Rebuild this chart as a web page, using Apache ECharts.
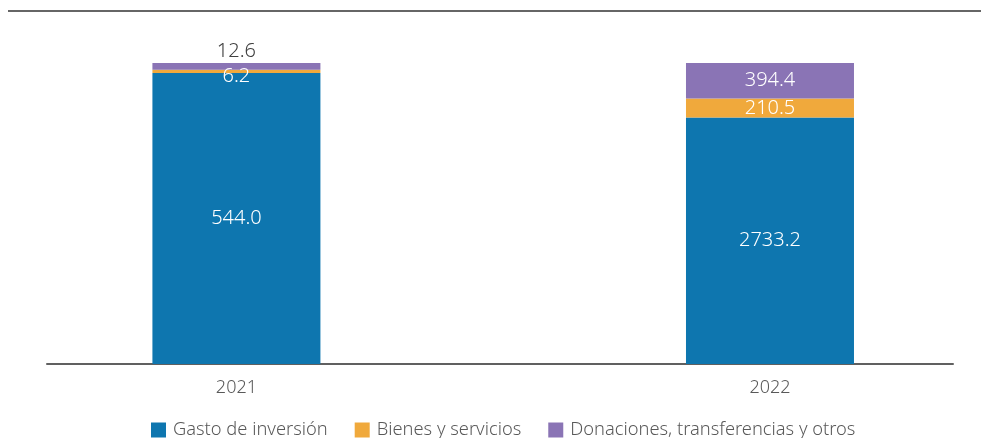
<!DOCTYPE html>
<html>
<head>
<meta charset="utf-8">
<script src="https://cdn.jsdelivr.net/npm/echarts@6/dist/echarts.min.js"></script>
<style>
  html, body { margin: 0; padding: 0; background: #fff; }
  #chart { width: 981px; height: 438px; }
</style>
</head>
<body>
<div id="chart"></div>
<script>
// Años y montos por rubro
const years = [2021, 2022];
const seriesNames = ['Gasto de inversión', 'Bienes y servicios', 'Donaciones, transferencias y otros'];
const gastoInversion = [544.0, 2733.2];
const bienesServicios = [6.2, 210.5];
const donaciones = [12.6, 394.4];

const colors = ['#0E76AF', '#F0A93C', '#8A74B5'];
const FONT = "'Noto Sans', sans-serif";
const amounts = [gastoInversion, bienesServicios, donaciones];

const totals = years.map((_, i) => gastoInversion[i] + bienesServicios[i] + donaciones[i]);
// each point: [participación % del total del año, año]
// (share comes first so the stack is computed on it, not on the year)
const share = (arr) => arr.map((v, i) => [v / totals[i] * 100, years[i]]);

const baseLabel = {
  show: true,
  position: 'inside',
  color: '#fff',
  fontFamily: FONT,
  fontSize: 20,
  fontWeight: 300,
  formatter: (p) => amounts[p.seriesIndex][p.dataIndex].toFixed(1)
};

function makeSeries(name, idx, perPoint) {
  const data = share(amounts[idx]).map((d, i) => {
    const item = { value: d };
    if (perPoint && perPoint[i]) item.label = perPoint[i];
    return item;
  });
  return {
    name: name,
    type: 'bar',
    stack: 'total',
    barWidth: 168,
    encode: { x: 1, y: 0 },
    itemStyle: { color: colors[idx] },
    label: baseLabel,
    data: data
  };
}

const chart = echarts.init(document.getElementById('chart'), null, { renderer: 'canvas' });

chart.setOption({
  animation: false,
  textStyle: { fontFamily: FONT },
  grid: { left: 47, right: 28, top: 63, bottom: 74, containLabel: false },
  xAxis: {
    type: 'value',
    min: 2020.645,
    max: 2022.343,
    axisLine: { show: true, lineStyle: { color: '#606060', width: 2 } },
    axisTick: { show: false },
    splitLine: { show: false },
    axisLabel: {
      customValues: years,
      formatter: (v) => String(v),
      color: '#595959',
      fontFamily: FONT,
      fontSize: 18,
      fontWeight: 300,
      margin: 15
    }
  },
  yAxis: {
    type: 'value',
    min: 0,
    max: 100,
    show: false,
    splitLine: { show: false }
  },
  legend: {
    bottom: -6,
    left: 146,
    icon: 'rect',
    itemWidth: 15,
    itemHeight: 15,
    itemGap: 27,
    textStyle: { color: '#595959', fontFamily: FONT, fontSize: 18.3, fontWeight: 300, padding: [0, 0, 0, 2] },
    data: seriesNames
  },
  graphic: [{
    type: 'line',
    shape: { x1: 8, y1: 11, x2: 981, y2: 11 },
    style: { stroke: '#666', lineWidth: 2 }
  }],
  series: [
    makeSeries(seriesNames[0], 0),
    makeSeries(seriesNames[1], 1, [{ offset: [0, 5] }]),
    makeSeries(seriesNames[2], 2, [{ position: 'top', color: '#404040', distance: 2 }])
  ]
});
</script>
</body>
</html>
